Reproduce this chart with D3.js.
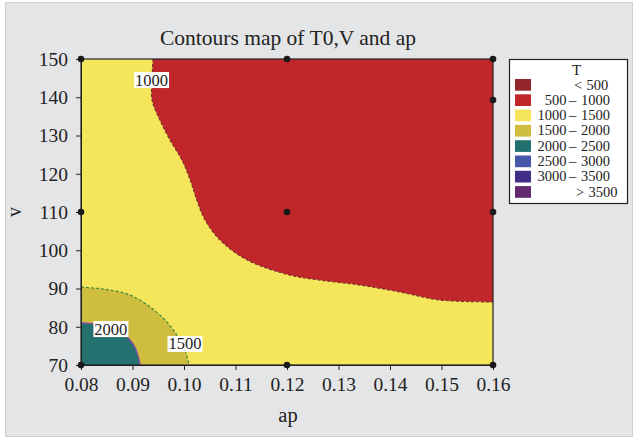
<!DOCTYPE html>
<html><head><meta charset="utf-8">
<script src="https://cdn.jsdelivr.net/npm/d3@7"></script>
<style>body{margin:0;background:#fff}svg{display:block}text{font-family:"Liberation Serif","DejaVu Serif",serif;fill:#222}</style>
</head><body>
<script>
// ---- data ----
const xTicks = [0.08,0.09,0.10,0.11,0.12,0.13,0.14,0.15,0.16];
const yTicks = [70,80,90,100,110,120,130,140,150];
// contour boundary 1000 (red region edge), [ap, V]
const c1000 = [[0.0940,150],[0.0938,144.5],[0.0938,139.3],[0.0953,134.1],[0.0973,128.8],[0.0996,123.6],[0.1012,118.4],[0.1025,113.1],[0.1041,107.9],[0.1070,102.7],[0.1122,97.5],[0.1206,93.5],[0.1264,92.2],[0.1342,90.9],[0.1419,89.1],[0.1497,87.0],[0.16,86.5]];
// contour boundary 1500 (olive region edge)
const c1500 = [[0.08,90.4],[0.0827,90.1],[0.0856,89.6],[0.0895,88.3],[0.0934,85.2],[0.0967,81.2],[0.0986,77.8],[0.1002,73.9],[0.1010,70]];
// contour boundary 2000 (teal region edge)
const c2000 = [[0.08,81.0],[0.0827,80.7],[0.0856,79.9],[0.0880,78.4],[0.0895,76.6],[0.0907,74.0],[0.0915,70]];
// design points
const pts = [[0.08,150],[0.12,150],[0.16,150],[0.16,139.3],[0.08,110],[0.12,110],[0.16,110],[0.08,70],[0.12,70],[0.16,70]];
// contour labels
const cLabels = [{t:"1000",ap:0.0937,v:144.5},{t:"2000",ap:0.0858,v:79.4},{t:"1500",ap:0.1002,v:75.5}];
// legend
const legendLabels = [["","<","500"],["500","–","1000"],["1000","–","1500"],["1500","–","2000"],["2000","–","2500"],["2500","–","3000"],["3000","–","3500"],["",">","3500"]];
const legendColors = ["#92262a","#c1272a","#f5e55b","#cfbd3f","#23716f","#4457a8","#432e87","#62296d"];

const W=635,H=439;
const svg=d3.select("body").append("svg").attr("width",W).attr("height",H);
svg.append("rect").attr("x",5.5).attr("y",2.5).attr("width",627).attr("height",434).attr("fill","#e4e5e7").attr("stroke","#cfd0d2");

const L=81,R=493,T=59,B=365;
const x=d3.scaleLinear().domain([0.08,0.16]).range([L,R]);
const y=d3.scaleLinear().domain([70,150]).range([B,T]);

svg.append("defs").append("clipPath").attr("id","pc").append("rect").attr("x",L).attr("y",T).attr("width",R-L).attr("height",B-T);
const g=svg.append("g").attr("clip-path","url(#pc)");
g.append("rect").attr("x",L).attr("y",T).attr("width",R-L).attr("height",B-T).attr("fill",legendColors[2]);

const line=d3.line().x(d=>x(d[0])).y(d=>y(d[1])).curve(d3.curveCatmullRom.alpha(0.5));
const P=(a,b)=>"L"+x(a)+","+y(b);
g.append("path").attr("d",line(c1000)+P(0.16,150)+"Z").attr("fill",legendColors[1]);
g.append("path").attr("d",line(c1500)+P(0.08,70)+"Z").attr("fill",legendColors[3]);
g.append("path").attr("d",line(c2000)+P(0.08,70)+"Z").attr("fill",legendColors[4]);
g.append("path").attr("d",line(c1000)).attr("fill","none").attr("stroke","#7a3030").attr("stroke-width",1.2).attr("stroke-dasharray","3,2");
g.append("path").attr("d",line(c1500)).attr("fill","none").attr("stroke","#3d8a3a").attr("stroke-width",1.2).attr("stroke-dasharray","3,2");
g.append("path").attr("d",line(c2000)).attr("fill","none").attr("stroke","#8c47a8").attr("stroke-width",1.2);

// contour labels
const lblG=svg.append("g");
cLabels.forEach(c=>{
  const gg=lblG.append("g");
  const r=gg.append("rect").attr("fill","#fff");
  const t=gg.append("text").attr("x",x(c.ap)).attr("y",y(c.v)).attr("text-anchor","middle").attr("dominant-baseline","central").attr("font-size",16.5).text(c.t);
  const bb=t.node().getBBox();
  r.attr("x",bb.x-1).attr("y",bb.y+1.5).attr("width",bb.width+2).attr("height",bb.height-3);
});

// axes
const xa=svg.append("g").attr("transform",`translate(0,${B})`).call(d3.axisBottom(x).tickValues(xTicks).tickFormat(d3.format(".2f")).tickSize(5).tickPadding(7).tickSizeOuter(0));
const ya=svg.append("g").attr("transform",`translate(${L},0)`).call(d3.axisLeft(y).tickValues(yTicks).tickSize(5).tickPadding(8).tickSizeOuter(0));
[xa,ya].forEach(a=>{a.selectAll("text").attr("font-size",19.5).attr("fill","#222");a.selectAll("line").attr("stroke","#222");a.select(".domain").attr("stroke","#222");});
svg.append("rect").attr("x",L).attr("y",T).attr("width",R-L).attr("height",B-T).attr("fill","none").attr("stroke","#222").attr("stroke-width",1.2);

// points
svg.selectAll("circle.p").data(pts).join("circle").attr("cx",d=>x(d[0])).attr("cy",d=>y(d[1])).attr("r",3.3).attr("fill","#1a1a1a");

// titles
svg.append("text").attr("x",288).attr("y",45).attr("text-anchor","middle").attr("font-size",21.5).text("Contours map of T0,V and ap");
svg.append("text").attr("x",288).attr("y",422).attr("text-anchor","middle").attr("font-size",20.5).text("ap");
svg.append("text").attr("transform","translate(21,212) rotate(-90)").attr("text-anchor","middle").attr("font-size",20).text("v");

// legend
const lg=svg.append("g");
const FS=14.5;
lg.append("rect").attr("x",509.5).attr("y",59.5).attr("width",118).attr("height",144).attr("fill","#fff").attr("stroke","#222").attr("stroke-width",1.2);
lg.append("text").attr("x",576.5).attr("y",74.5).attr("text-anchor","middle").attr("font-size",15).text("T");
legendLabels.forEach((d,i)=>{
  const yy=79+i*15.3;
  lg.append("rect").attr("x",515).attr("y",yy).attr("width",16).attr("height",11.7).attr("fill",legendColors[i]);
  const by=yy+10.5;
  const t=lg.append("text").attr("y",by).attr("font-size",FS);
  if(d[0]){
    t.append("tspan").attr("x",566.5).attr("text-anchor","end").text(d[0]);
    t.append("tspan").attr("x",572.5).attr("text-anchor","middle").text(d[1]);
    t.append("tspan").attr("x",581).attr("text-anchor","start").text(d[2]);
  } else {
    const sx=i===0?574:576;
    t.append("tspan").attr("x",sx).attr("text-anchor","start").text(d[1]);
    t.append("tspan").attr("x",sx+12.5).attr("text-anchor","start").text(d[2]);
  }
});
</script>
</body></html>
